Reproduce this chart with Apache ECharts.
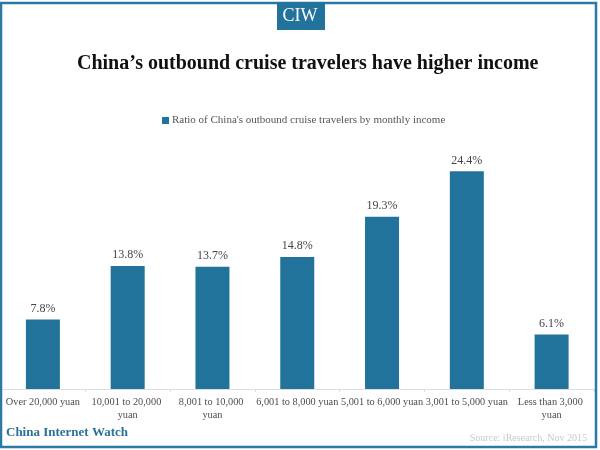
<!DOCTYPE html>
<html>
<head>
<meta charset="utf-8">
<script src="https://cdn.jsdelivr.net/npm/echarts@6/dist/echarts.min.js"></script>
<style>
  html, body { margin: 0; padding: 0; background: #fff; }
  #chart { width: 600px; height: 450px; }
</style>
</head>
<body>
<div id="chart"></div>
<script>
var categorias = ['Over 20,000 yuan', '10,001 to 20,000 yuan', '8,001 to 10,000 yuan', '6,001 to 8,000 yuan', '5,001 to 6,000 yuan', '3,001 to 5,000 yuan', 'Less than 3,000 yuan'];
var valores = [7.8, 13.8, 13.7, 14.8, 19.3, 24.4, 6.1];
var serieNombre = "Ratio of China's outbound cruise travelers by monthly income";

var azul = '#22739c';
var fuente = '"Liberation Serif", serif';

var myChart = echarts.init(document.getElementById('chart'));

var option = {
  animation: false,
  backgroundColor: '#fff',
  textStyle: { fontFamily: fuente },
  title: {
    text: 'China’s outbound cruise travelers have higher income',
    left: 72,
    top: 49,
    textStyle: { fontFamily: fuente, fontSize: 20, fontWeight: 'bold', color: '#111' }
  },
  legend: {
    data: [serieNombre],
    top: 110,
    left: 157,
    icon: 'rect',
    itemWidth: 7,
    itemHeight: 7,
    itemGap: 3,
    textStyle: { fontFamily: fuente, fontSize: 11, color: '#555', padding: [0, 0, 0, -2] }
  },
  // sin outerBounds, si no la v6 encoge la rejilla por las etiquetas
  grid: { left: 0.5, right: 6, top: 166, bottom: 61, outerBoundsMode: 'none' },
  xAxis: {
    type: 'category',
    data: categorias,
    axisLine: { lineStyle: { color: '#ddd', width: 1 } },
    axisTick: { show: true, length: 3, lineStyle: { color: '#ddd' } },
    axisLabel: {
      interval: 0,
      width: 84,
      overflow: 'break',
      margin: 7,
      lineHeight: 13,
      fontFamily: fuente,
      fontSize: 10.3,
      color: '#4d4d4d'
    }
  },
  yAxis: { type: 'value', min: 0, max: 25, show: false },
  series: [
    {
      name: serieNombre,
      type: 'bar',
      data: valores,
      barWidth: 34,
      itemStyle: { color: azul },
      label: {
        show: true,
        position: 'top',
        distance: 5,
        formatter: function (p) { return p.value.toFixed(1) + '%'; },
        fontFamily: fuente,
        fontSize: 12,
        color: '#444'
      }
    }
  ],
  graphic: [
    // marco exterior
    { type: 'rect', z: 10, shape: { x: 1, y: 3, width: 595, height: 444 }, style: { fill: 'none', stroke: '#2a7aa3', lineWidth: 2.5 } },
    // logo
    { type: 'rect', z: 11, shape: { x: 277, y: 2, width: 48, height: 28 }, style: { fill: '#22739c' } },
    { type: 'text', z: 12, x: 300, y: 16, style: { text: 'CIW', fill: '#fff', font: '18px "Liberation Serif", serif', align: 'center', verticalAlign: 'middle' } },
    // pie
    { type: 'text', z: 12, x: 6, y: 433, style: { text: 'China Internet Watch', fill: '#2a7199', font: 'bold 13px "Liberation Serif", serif', verticalAlign: 'middle' } },
    { type: 'text', z: 12, x: 587, y: 438, style: { text: 'Source: iResearch, Nov 2015', fill: '#c8c8c8', font: '10px "Liberation Serif", serif', align: 'right', verticalAlign: 'middle' } }
  ]
};

myChart.setOption(option);
</script>
</body>
</html>
